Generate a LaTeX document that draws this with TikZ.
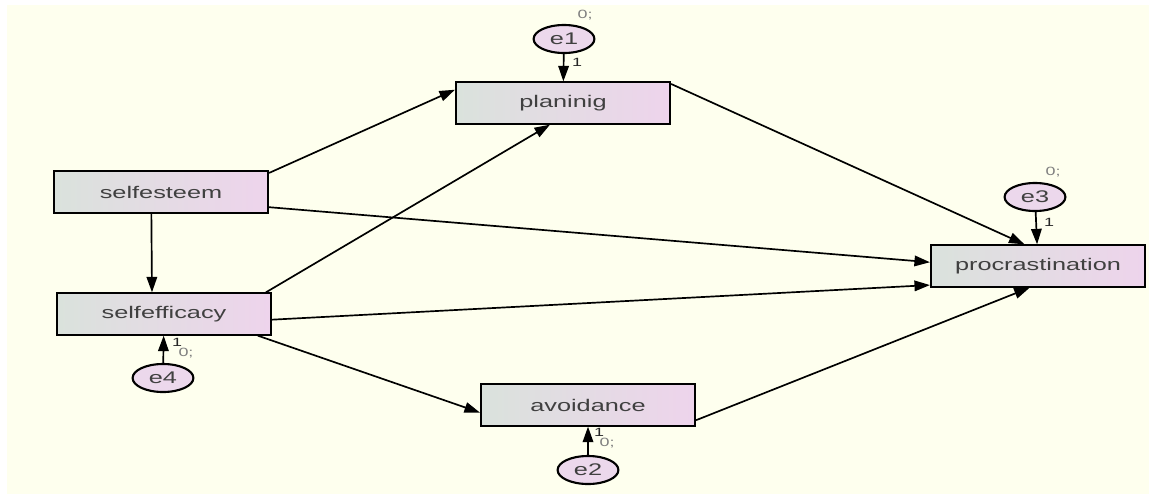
\documentclass[tikz,border=0pt]{standalone}
\usepackage{fontspec}
\setmainfont{Liberation Sans}
\newfontfamily\amosfont[FakeStretch=1.5]{Liberation Sans}
\usetikzlibrary{arrows.meta,shapes.geometric}

\definecolor{cream}{RGB}{254,255,238}
\definecolor{boxl}{RGB}{218,226,220}
\definecolor{boxr}{RGB}{238,212,236}
\definecolor{errfill}{RGB}{236,216,236}

\begin{document}
\begin{tikzpicture}[x=0.025cm,y=-0.025cm,
    >={Triangle[length=11pt,width=7.5pt]},
    var node/.style={rectangle,draw,line width=1.5pt,minimum width=5.35cm,
                     minimum height=1.03cm,left color=boxl,right color=boxr,
                     text=black!75,font=\amosfont\fontsize{12}{14}\selectfont},
    err node/.style={ellipse,draw,line width=1.5pt,fill=errfill,inner sep=0pt,
                     minimum width=1.52cm,minimum height=0.7cm,
                     text=black!75,font=\amosfont\fontsize{12}{14}\selectfont},
    path/.style={->,line width=1.2pt},
    wt/.style={font=\amosfont\fontsize{8.5}{9}\selectfont,text=black!85},
    icpt/.style={font=\amosfont\fontsize{8.5}{9}\selectfont,text=black!50}]

  \useasboundingbox (0,0) rectangle (1149,494);
  \fill[cream] (7,5) rectangle (1149,494);

  % observed variables
  \node[var node] (selfesteem) at (161,192) {selfesteem};
  \node[var node] (selfefficacy) at (164,314) {selfefficacy};
  \node[var node] (planinig) at (563,103) {planinig};
  \node[var node] (avoidance) at (588,405) {avoidance};
  \node[var node] (procrastination) at (1038,266) {procrastination};

  % error terms
  \node[err node] (e1) at (564,39) {e1};
  \node[err node] (e2) at (588,470) {e2};
  \node[err node] (e3) at (1035,197) {e3};
  \node[err node] (e4) at (163,378) {e4};

  % regression paths
  \draw[path] (selfesteem.10) -- (planinig.173);
  \draw[path] (selfesteem.352) -- (procrastination.178);
  \draw[path] (selfesteem.246) -- (selfefficacy.119);
  \draw[path] (selfefficacy.12) -- (planinig.239);
  \draw[path] (selfefficacy.357) -- (procrastination.190);
  \draw[path] (selfefficacy.347) -- (avoidance.184);
  \draw[path] (planinig.10) -- (procrastination.122);
  \draw[path] (avoidance.352) -- (procrastination.249);

  % error paths
  \draw[path] (e1) -- (planinig);
  \draw[path] (e2) -- (avoidance);
  \draw[path] (e3) -- (procrastination);
  \draw[path] (e4) -- (selfefficacy);

  % weights and intercepts
  \node[wt] (w1) at (577,62) {1};
  \node[icpt] (i1) at (585,15) {0;};
  \node[wt] (w3) at (1049,222) {1};
  \node[icpt] (i3) at (1053,172) {0;};
  \node[wt] (w4) at (177,342) {1};
  \node[icpt] (i4) at (186,353) {0;};
  \node[wt] (w2) at (599,432) {1};
  \node[icpt] (i2) at (607,443) {0;};
\end{tikzpicture}
\end{document}
